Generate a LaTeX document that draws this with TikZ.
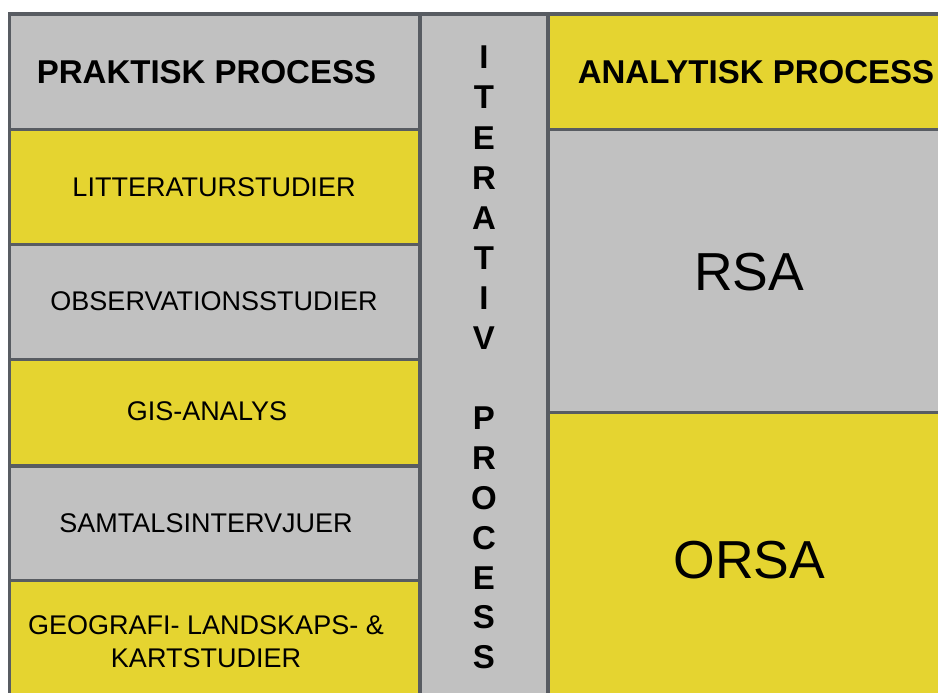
\documentclass[tikz,border=0pt]{standalone}
\usepackage{fontspec}
\setmainfont{Liberation Sans}
\definecolor{gry}{RGB}{193,193,193}
\definecolor{bord}{RGB}{88,92,98}
\definecolor{ylw}{RGB}{229,212,48}
\begin{document}
\begin{tikzpicture}[x=1pt,y=-1pt,
  cell/.style={draw=bord, line width=3.6pt, inner sep=0pt, outer sep=0pt},
  graycell/.style={cell, fill=gry},
  yellowcell/.style={cell, fill=ylw},
  leftcol/.style={minimum width=410.5pt},
  rightcol/.style={minimum width=417pt},
  headtext/.style={font=\bfseries\fontsize{33}{38}\selectfont, inner sep=0pt},
  itemtext/.style={font=\fontsize{27}{32.5}\selectfont, align=center, inner sep=0pt},
  bigtext/.style={font=\fontsize{53.5}{60}\selectfont, inner sep=0pt},
  midletter/.style={font=\bfseries\fontsize{33}{40}\selectfont, inner sep=0pt}
]
\useasboundingbox (0,0) rectangle (938,693);
\clip (0,0) rectangle (938,693);
\fill[white] (0,0) rectangle (938,693);
% left column
\node[graycell, leftcol, minimum height=115.5pt] (praktisk) at (214.75,71.75) {};
\node[yellowcell, leftcol, minimum height=115pt] (litt) at (214.75,187) {};
\node[graycell, leftcol, minimum height=115pt] (obs) at (214.75,302) {};
\node[yellowcell, leftcol, minimum height=106.5pt] (gis) at (214.75,412.75) {};
\node[graycell, leftcol, minimum height=114.5pt] (samtal) at (214.75,523.25) {};
\node[yellowcell, leftcol, minimum height=122.5pt] (geo) at (214.75,641.75) {};
\node[headtext] (praktiskt) at (206.5,72) {PRAKTISK PROCESS};
\node[itemtext] (littt) at (214,187) {LITTERATURSTUDIER};
\node[itemtext] (obst) at (214,301.5) {OBSERVATIONSSTUDIER};
\node[itemtext] (gist) at (207,411) {GIS-ANALYS};
\node[itemtext] (samtalt) at (206,523) {SAMTALSINTERVJUER};
\node[itemtext] (geot) at (206,641.5) {GEOGRAFI- LANDSKAPS- \&\\KARTSTUDIER};
% middle column
\node[graycell, minimum width=128pt, minimum height=696pt] (iter) at (484,362) {};
\foreach \ch/\yy in {I/57,T/97,E/138,R/178,A/218,T/258,I/298,V/338,P/418,R/458,O/498,C/538,E/578,S/617,S/657}
  \node[midletter] (m\yy) at (484,\yy) {\ch};
% right column
\node[yellowcell, rightcol, minimum height=115.5pt] (analytisk) at (756.5,71.75) {};
\node[graycell, rightcol, minimum height=283pt] (rsacell) at (756.5,271) {};
\node[yellowcell, rightcol, minimum height=297.5pt] (orsacell) at (756.5,561.25) {};
\node[headtext] (analytiskt) at (756,72) {ANALYTISK PROCESS};
\node[bigtext] (rsa) at (749,272) {RSA};
\node[bigtext] (orsa) at (749.5,560) {ORSA};
\end{tikzpicture}
\end{document}
